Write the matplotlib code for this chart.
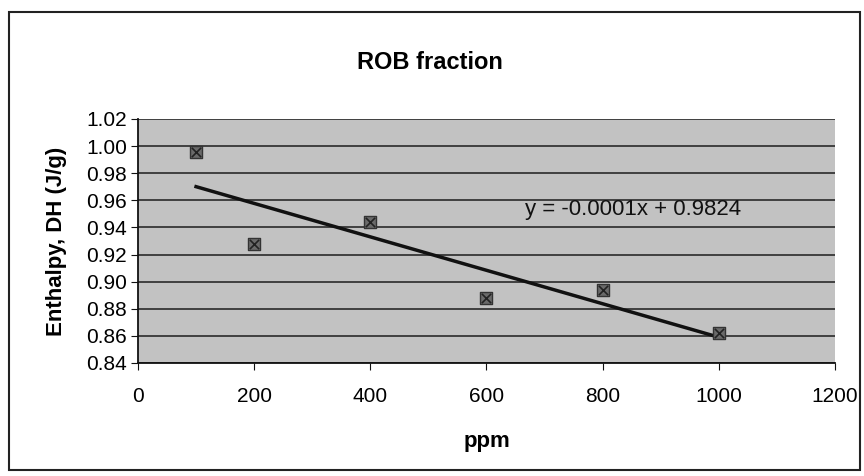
import matplotlib
matplotlib.use("Agg")
import matplotlib.pyplot as plt
import numpy as np
from matplotlib.patches import Rectangle

plt.rcParams['font.family'] = ['Liberation Sans', 'DejaVu Sans']

ppm = [100, 200, 400, 600, 800, 1000]
enthalpy = [0.996, 0.928, 0.944, 0.888, 0.894, 0.862]
title = "ROB fraction"
equation = "y = -0.0001x + 0.9824"

fig = plt.figure(figsize=(8.64, 4.76), dpi=100)
ax = fig.add_axes([0.1597, 0.2374, 0.8067, 0.5126])
ax.set_facecolor('#c2c2c2')

fig.patches.append(Rectangle((0.010, 0.012), 0.985, 0.962, transform=fig.transFigure,
                             fill=False, edgecolor='#222222', linewidth=1.5))

ax.set_xlim(0, 1200)
ax.set_ylim(0.84, 1.02)
yt = np.arange(0.84, 1.0201, 0.02)
ax.set_yticks(yt)
ax.set_yticklabels([f"{v:.2f}" for v in yt])
ax.set_xticks(np.arange(0, 1201, 200))
ax.grid(axis='y', color='#2a2a2a', linewidth=1.2)
ax.set_axisbelow(True)
for s in ['top', 'right']:
    ax.spines[s].set_visible(False)
for s in ['left', 'bottom']:
    ax.spines[s].set_color('#111111')
    ax.spines[s].set_linewidth(1.3)
ax.tick_params(axis='both', labelsize=15, direction='out', length=5, color='#111111')
ax.tick_params(axis='x', pad=12)
ax.tick_params(axis='y', pad=3)

coef = np.polyfit(ppm, enthalpy, 1)
xl = np.array([min(ppm), max(ppm)])
ax.plot(xl, np.polyval(coef, xl), color='#111111', linewidth=2.5, zorder=3)
ax.scatter(ppm, enthalpy, marker='s', s=65, facecolor='#6a6a6a', edgecolor='#333333',
           linewidth=1, zorder=4)
ax.scatter(ppm, enthalpy, marker='x', s=45, color='#222222', linewidth=1.2, zorder=5)

ax.text(666, 0.953, equation, fontsize=16, color='#111111', va='center', ha='left')

fig.text(0.498, 0.868, title, fontsize=17, fontweight='bold', ha='center', va='center')
ax.set_xlabel('ppm', fontsize=16, fontweight='bold', labelpad=18)
ax.set_ylabel('Enthalpy, DH (J/g)', fontsize=16, fontweight='bold', labelpad=14)

fig.savefig('out.png', dpi=100)
